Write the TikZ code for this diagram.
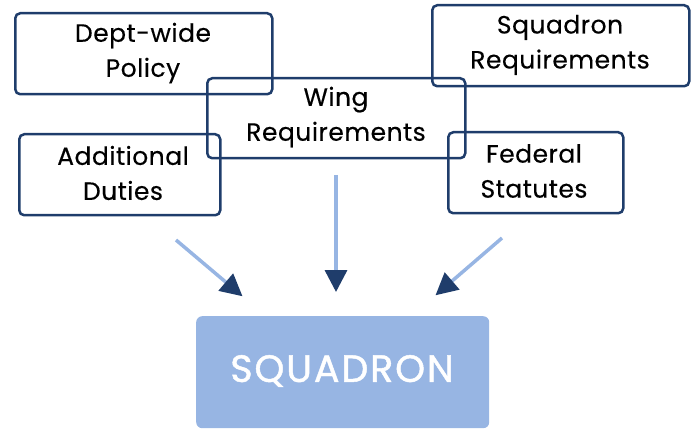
\documentclass[tikz,border=0pt]{standalone}
\usepackage{fontspec}
\setmainfont{Poppins}[FakeBold=0.3, LetterSpace=2]
\newfontfamily\sqfont{Poppins}[FakeBold=1.2, LetterSpace=5]
\usetikzlibrary{arrows.meta}
\definecolor{navy}{HTML}{1F3D6B}
\definecolor{lblue}{HTML}{97B5E3}
\tikzset{
  box/.style={draw=navy, line width=2.5pt, rounded corners=5pt, inner sep=0pt, anchor=north west},
  lbl/.style={font=\fontsize{25}{35}\selectfont, align=center, text=black},
  conn/.style={draw=lblue, line width=3.5pt, -{Triangle[color=navy, length=22pt, width=22pt]}, shorten >=-2pt},
}
\begin{document}
\begin{tikzpicture}[x=1pt, y=-1pt]
\useasboundingbox (0,0) rectangle (695,430);
% boxes
\node[box, minimum width=257pt, minimum height=81pt] (dept) at (14,12) {};
\node[box, minimum width=257pt, minimum height=81pt] (sqreq) at (431,4) {};
\node[box, minimum width=258pt, minimum height=80pt] (wing) at (206,77) {};
\node[box, minimum width=201pt, minimum height=81pt] (add) at (18,133) {};
\node[box, minimum width=175pt, minimum height=81pt] (fed) at (447,131) {};
% labels
\node[lbl] (deptT) at (143,53) {Dept-wide\\Policy};
\node[lbl] (sqreqT) at (560,45) {Squadron\\Requirements};
\node[lbl] (wingT) at (336,117) {Wing\\Requirements};
\node[lbl] (addT) at (123,173) {Additional\\Duties};
\node[lbl] (fedT) at (534,171) {Federal\\Statutes};
% squadron
\node[fill=lblue, rounded corners=6pt, minimum width=293pt, minimum height=112pt, anchor=north west, inner sep=0pt] (sq) at (196,316) {};
\node[font=\sqfont\fontsize{38}{44}\selectfont, text=white] (sqT) at (342,371) {SQUADRON};
% arrows
\coordinate (a1s) at (176,240); \coordinate (a1e) at (241,295);
\coordinate (a2s) at (336,175); \coordinate (a2e) at (336,290);
\coordinate (a3s) at (502,238); \coordinate (a3e) at (437,294);
\draw[conn] (a1s) -- (a1e);
\draw[conn] (a2s) -- (a2e);
\draw[conn] (a3s) -- (a3e);
\end{tikzpicture}
\end{document}
